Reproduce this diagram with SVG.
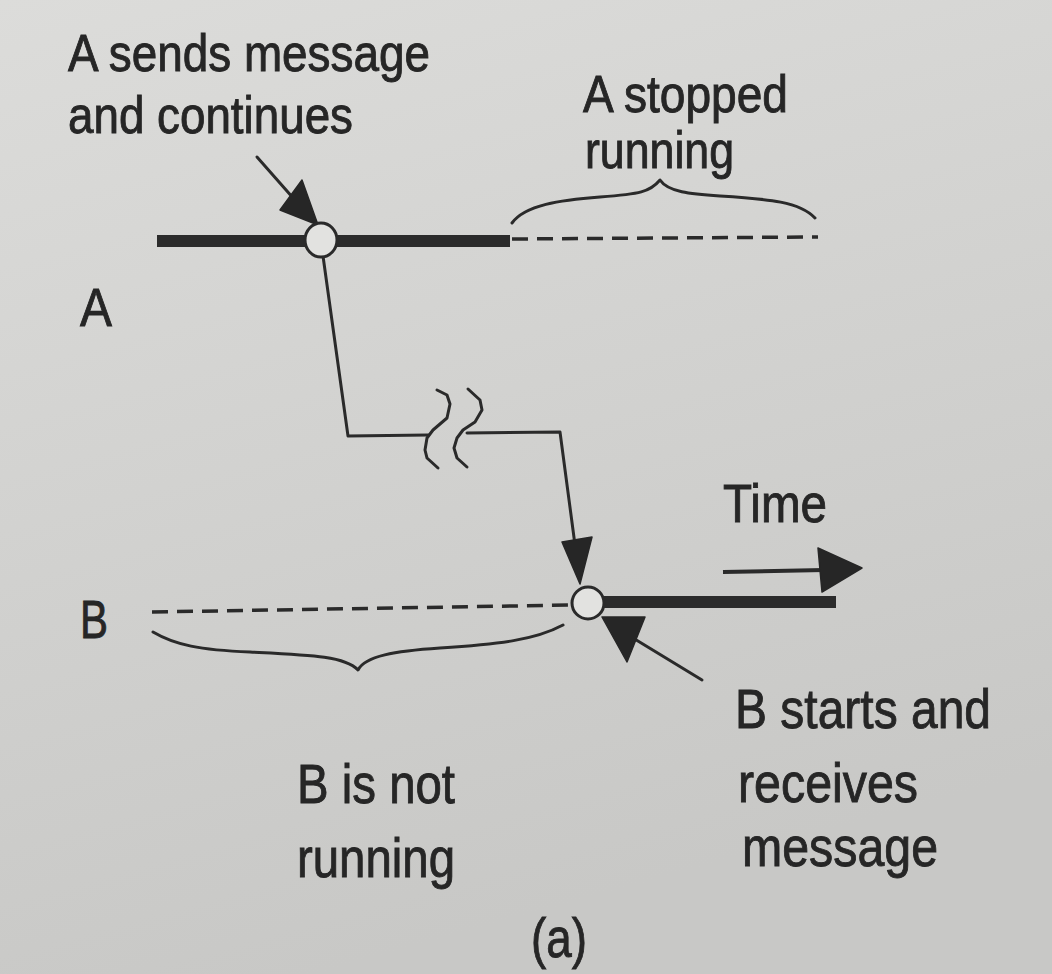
<svg xmlns="http://www.w3.org/2000/svg" width="1052" height="974" viewBox="0 0 1052 974">
<defs>
<linearGradient id="bg" x1="0" y1="0" x2="0.3" y2="1">
<stop offset="0" stop-color="#dcdcda"/>
<stop offset="1" stop-color="#c8c8c6"/>
</linearGradient>
<style>
.t{font-family:"Liberation Sans",Arial,sans-serif;fill:#262626;stroke:#262626;stroke-width:0.9;}
.thin{fill:none;stroke:#2a2a2a;stroke-width:3;stroke-linejoin:round;stroke-linecap:round;}
.bar{fill:#2b2b2b;}
.dash{fill:none;stroke:#2a2a2a;stroke-width:3.5;stroke-dasharray:16 9;}
.node{fill:#e2e2e0;stroke:#2a2a2a;stroke-width:3;}
.head{fill:#262626;stroke:#262626;stroke-width:1.5;stroke-linejoin:round;}
</style>
</defs>
<rect width="1052" height="974" fill="url(#bg)"/>

<g id="labels">
<text class="t" x="68" y="71" font-size="52" textLength="362" lengthAdjust="spacingAndGlyphs">A sends message</text>
<text class="t" x="68" y="133" font-size="52" textLength="285" lengthAdjust="spacingAndGlyphs">and continues</text>
<text class="t" x="583" y="112" font-size="52" textLength="205" lengthAdjust="spacingAndGlyphs">A stopped</text>
<text class="t" x="585" y="168" font-size="52" textLength="149" lengthAdjust="spacingAndGlyphs">running</text>
<text class="t" x="80" y="326" font-size="54" textLength="32" lengthAdjust="spacingAndGlyphs">A</text>
<text class="t" x="80" y="638" font-size="54" textLength="28" lengthAdjust="spacingAndGlyphs">B</text>
<text class="t" x="723" y="522" font-size="54" textLength="104" lengthAdjust="spacingAndGlyphs">Time</text>
<text class="t" x="735" y="728" font-size="56" textLength="256" lengthAdjust="spacingAndGlyphs">B starts and</text>
<text class="t" x="738" y="802" font-size="56" textLength="180" lengthAdjust="spacingAndGlyphs">receives</text>
<text class="t" x="742" y="866" font-size="56" textLength="196" lengthAdjust="spacingAndGlyphs">message</text>
<text class="t" x="297" y="803" font-size="56" textLength="158" lengthAdjust="spacingAndGlyphs">B is not</text>
<text class="t" x="297" y="877" font-size="56" textLength="158" lengthAdjust="spacingAndGlyphs">running</text>
<text class="t" x="531" y="957" font-size="56" textLength="56" lengthAdjust="spacingAndGlyphs">(a)</text>
</g>

<g id="timelineA">
<rect class="bar" x="157" y="235" width="353" height="12"/>
<line class="dash" x1="512" y1="239" x2="818" y2="237"/>
<path class="thin" d="M512,223 C525,205 560,200 600,197 C640,194 650,192 660,180 C668,192 690,194 720,196 C770,199 800,202 815,218"/>
</g>

<g id="timelineB">
<line class="dash" x1="152" y1="612" x2="572" y2="605"/>
<rect class="bar" x="603" y="596" width="233" height="12"/>
<path class="thin" d="M153,632 C175,645 200,650 250,652 C310,655 345,656 358,670 C365,656 395,651 440,648 C500,644 535,640 563,625"/>
</g>

<g id="connectors">
<polyline class="thin" points="323,256 348,436 428,435"/>
<polyline class="thin" points="467,433 560,432 575,545"/>
<path class="thin" d="M437,390 L447,395 L450,404 L447,418 L433,430 L427,438 L425,450 L427,458 L438,468"/>
<path class="thin" d="M468,389 L480,400 L482,410 L475,422 L463,430 L457,438 L454,448 L457,458 L467,467"/>
<polygon class="head" points="562,542 592,537 580,584"/>
<line class="thin" x1="257" y1="157" x2="294" y2="199"/>
<polygon class="head" points="302,180 280,210 318,225"/>
<line class="thin" x1="702" y1="680" x2="633" y2="638"/>
<polygon class="head" points="602,617 645,617 627,662"/>
<line x1="723" y1="572" x2="824" y2="570" stroke="#2a2a2a" stroke-width="4"/>
<polygon class="head" points="818,548 862,568 822,592"/>
</g>

<g id="nodeA">
<ellipse class="node" cx="321" cy="240" rx="16" ry="17"/>
</g>
<g id="nodeB">
<circle class="node" cx="588" cy="603" r="16"/>
</g>
</svg>
